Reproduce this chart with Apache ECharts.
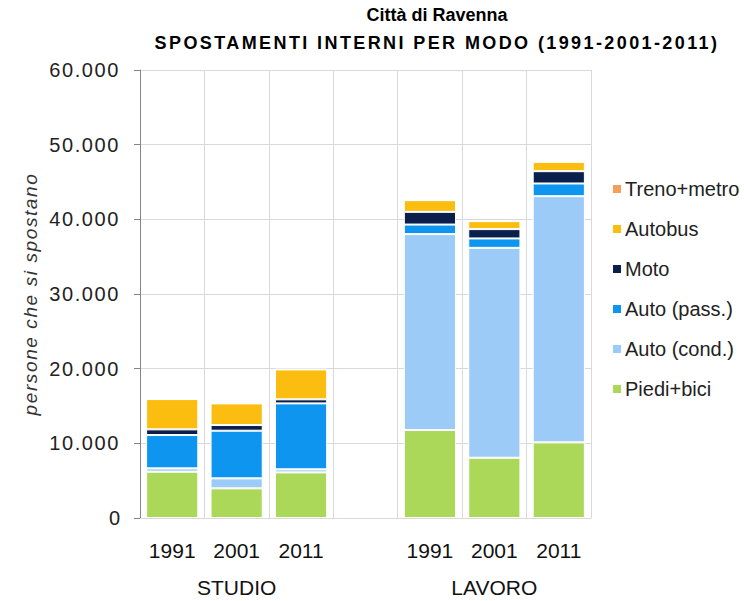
<!DOCTYPE html>
<html>
<head>
<meta charset="utf-8">
<script src="https://cdn.jsdelivr.net/npm/echarts@6/dist/echarts.min.js"></script>
<style>
html,body{margin:0;padding:0;background:#fff}#c{width:744px;height:601px}
#c svg text{font-family:'Liberation Sans',Arial,sans-serif !important;}
</style>
</head>
<body>
<div id="c"></div>
<script>
var categories = ['1991', '2001', '2011', '', '1991', '2001', '2011'];
var groupLabels = ['', 'STUDIO', '', '', '', 'LAVORO', ''];
var seriesNames = ['Piedi+bici', 'Auto (cond.)', 'Auto (pass.)', 'Moto', 'Autobus', 'Treno+metro'];
var piediBici  = [6200, 3970, 6110, null, 11780, 8070, 10130];
var autoCond   = [450, 1340, 410, null, 26240, 28110, 32970];
var autoPass   = [4460, 6380, 8830, null, 1280, 1260, 1700];
var moto       = [760, 760, 540, null, 1700, 1250, 1650];
var autobus    = [4060, 2900, 4010, null, 1570, 1070, 1250];
var trenoMetro = [40, 40, 40, null, 40, 40, 40];
var yTicks = [0, 10000, 20000, 30000, 40000, 50000, 60000];
var titleLine1 = 'Città di Ravenna';
var titleLine2 = 'SPOSTAMENTI INTERNI PER MODO (1991-2001-2011)';
var yName = 'persone che si spostano';

var colors = ['#acd85a', '#9dcbf7', '#0d95f0', '#0b1f4c', '#fbbd0f', '#f4a05a'];
var values = [piediBici, autoCond, autoPass, moto, autobus, trenoMetro];
var font = 'Liberation Sans';

var series = seriesNames.map(function (n, i) {
  return {
    name: n, type: 'bar', stack: 'tot', data: values[i],
    barCategoryGap: '19%',
    itemStyle: { color: colors[i], borderColor: '#ffffff', borderWidth: 1 }
  };
});

var chart = echarts.init(document.getElementById('c'), null, { renderer: 'svg' });
chart.setOption({
  animation: false,
  backgroundColor: '#ffffff',
  title: {
    text: titleLine1 + '\n' + titleLine2,
    left: 432, top: -4, textAlign: 'center',
    textStyle: { fontFamily: font, fontSize: 18, fontWeight: 'bold', color: '#000', lineHeight: 28 }
  },
  legend: {
    orient: 'vertical', left: 606, top: 174,
    data: seriesNames.slice().reverse(),
    itemWidth: 10, itemHeight: 10, itemGap: 20, icon: 'rect',
    textStyle: { fontFamily: font, fontSize: 20, color: '#222', lineHeight: 20, padding: [0, 0, 0, -2] }
  },
  grid: { left: 140, right: 153, top: 70, bottom: 83 },
  xAxis: [{
    type: 'category', data: categories, position: 'bottom',
    axisLine: { show: true, lineStyle: { color: '#d9d9d9' } },
    axisTick: { show: false },
    splitLine: { show: true, interval: 0, lineStyle: { color: '#d9d9d9' } },
    axisLabel: { interval: 0, margin: 22, fontFamily: font, fontSize: 21, color: '#111' }
  }, {
    type: 'category', data: groupLabels, position: 'bottom', offset: 51,
    axisLine: { show: false }, axisTick: { show: false }, splitLine: { show: false },
    axisLabel: { interval: 0, fontFamily: font, fontSize: 21, color: '#111' }
  }],
  yAxis: {
    type: 'value', min: yTicks[0], max: yTicks[yTicks.length - 1], interval: 10000,
    name: yName, nameLocation: 'middle', nameGap: 100, nameRotate: 90,
    nameTextStyle: { fontFamily: font, fontSize: 19, fontStyle: 'italic', color: '#333' },
    axisLine: { show: true, lineStyle: { color: '#868686' } },
    axisTick: { show: true, length: 6, lineStyle: { color: '#868686' } },
    splitLine: { show: true, lineStyle: { color: '#d9d9d9' } },
    axisLabel: {
      margin: 20, fontFamily: font, fontSize: 20, color: '#222',
      formatter: function (v) { return v === 0 ? '0' : (v / 1000).toFixed(0) + '.000'; }
    }
  },
  series: series
});

// Excel-like wide letter spacing on some texts
var tickSet = {};
yTicks.forEach(function (v) { tickSet[v === 0 ? '0' : (v / 1000).toFixed(0) + '.000'] = true; });
document.querySelectorAll('#c svg text').forEach(function (t) {
  var s = t.textContent;
  if (s === titleLine2) t.style.letterSpacing = '2.4px';
  else if (s === yName) t.style.letterSpacing = '1.6px';
  else if (tickSet[s] && s !== '0') t.style.letterSpacing = '1.6px';
});
</script>
</body>
</html>
